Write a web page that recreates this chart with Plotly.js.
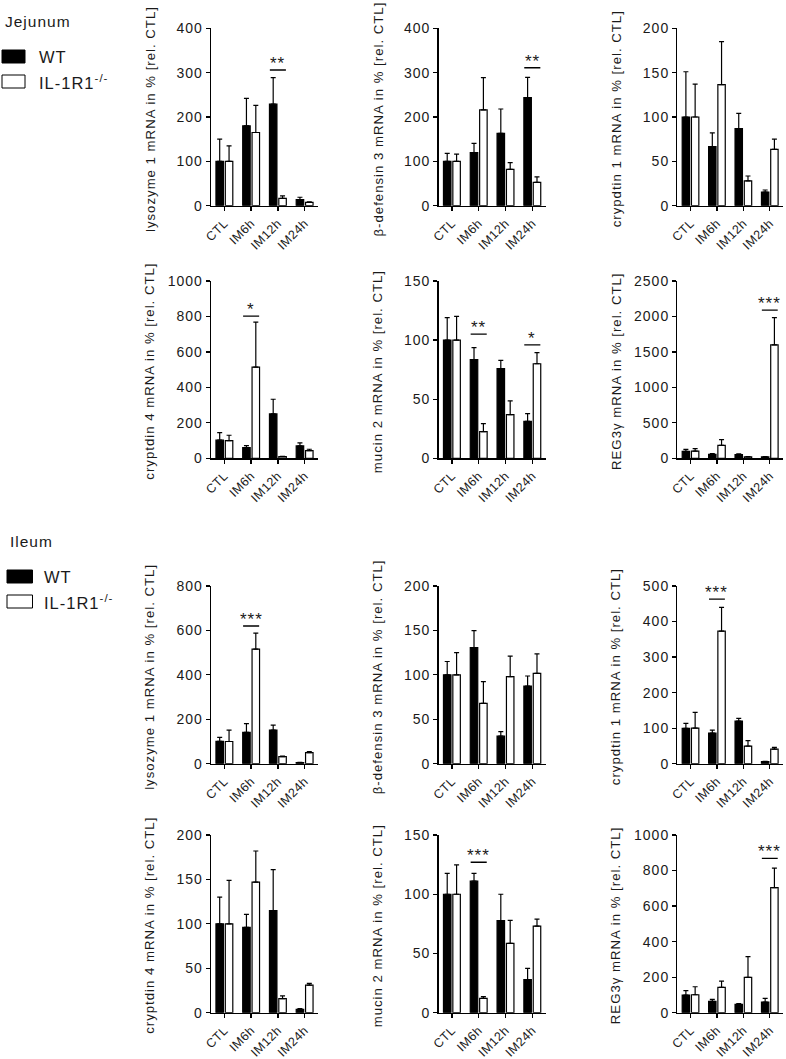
<!DOCTYPE html>
<html>
<head>
<meta charset="utf-8">
<script src="https://cdn.plot.ly/plotly-3.0.1.min.js"></script>
<style>
html, body { margin: 0; padding: 0; background: #fff; }
#chart { width: 786px; height: 1059px; }
svg text { letter-spacing: 1px; }
svg .xaxislayer-above text { letter-spacing: 0.5px; }
</style>
</head>
<body>
<div id="chart"></div>
<script>
// ---------- data ----------
const categories = ['CTL', 'IM6h', 'IM12h', 'IM24h'];
const groupWT = 'WT';
const groupKO = 'IL-1R1<sup>-/-</sup>';
const sectionNames = ['Jejunum', 'Ileum'];

// Jejunum
const jejLysoWT = [100, 180, 229, 14];     const jejLysoWTerr = [50, 62, 60, 5];
const jejLysoKO = [100, 165, 16.5, 7.5];   const jejLysoKOerr = [35, 61, 5.5, 1];
const jejBdefWT = [100, 119.5, 163, 244];  const jejBdefWTerr = [18, 21, 55, 45.5];
const jejBdefKO = [100, 216, 82, 52.6];    const jejBdefKOerr = [16.5, 73, 15, 12.4];
const jejCrp1WT = [100, 66.5, 87, 15.4];   const jejCrp1WTerr = [51, 15.5, 17, 2.3];
const jejCrp1KO = [100, 136.5, 28, 63.5];  const jejCrp1KOerr = [37, 48.5, 5.5, 11.5];
const jejCrp4WT = [102, 60, 250, 70];      const jejCrp4WTerr = [43, 12, 83, 17];
const jejCrp4KO = [100, 514, 9, 43];       const jejCrp4KOerr = [30, 254, 2, 8];
const jejMuc2WT = [100, 83.5, 75.8, 31.3]; const jejMuc2WTerr = [19, 10.1, 7.1, 6.5];
const jejMuc2KO = [100, 22.5, 36.9, 80];   const jejMuc2KOerr = [20, 6.8, 11.6, 9.4];
const jejRegWT = [99, 56, 52, 19];         const jejRegWTerr = [28, 10, 9, 4];
const jejRegKO = [100, 183, 19, 1598];     const jejRegKOerr = [36, 80, 4, 385];

// Ileum
const ilLysoWT = [100.6, 141, 151.6, 4.5]; const ilLysoWTerr = [18, 39, 22.4, 1.5];
const ilLysoKO = [100, 516, 31.5, 49.5];   const ilLysoKOerr = [51.6, 72, 3, 4.5];
const ilBdefWT = [100, 130.6, 31, 87.4];   const ilBdefWTerr = [15, 19.1, 5, 11.3];
const ilBdefKO = [100, 68, 98, 101.7];     const ilBdefKOerr = [25, 24.3, 23, 21.8];
const ilCrp1WT = [99.4, 86.3, 120, 5.6];   const ilCrp1WTerr = [14.1, 8.4, 7.6, 0.9];
const ilCrp1KO = [100, 373, 49.7, 41];     const ilCrp1KOerr = [44.5, 67, 15, 5];
const ilCrp4WT = [100, 96, 115, 3.75];     const ilCrp4WTerr = [30, 14.7, 46, 0.75];
const ilCrp4KO = [100, 147, 15.8, 31];     const ilCrp4KOerr = [49, 35, 3.2, 2];
const ilMuc2WT = [100, 111, 77.7, 28];     const ilMuc2WTerr = [17.6, 6.6, 22.3, 9.4];
const ilMuc2KO = [100, 12.1, 58.5, 73];    const ilMuc2KOerr = [24.7, 1.4, 19.5, 6];
const ilRegWT = [99.4, 64, 47, 60];        const ilRegWTerr = [24.6, 11, 3.6, 20.7];
const ilRegKO = [101, 142.6, 199, 703.6];  const ilRegKOerr = [45, 35.4, 116, 110];

// axis titles, ranges and tick steps (panel order: row by row)
const yTitles = [
  'lysozyme 1 mRNA in % [rel. CTL]', 'β-defensin 3 mRNA in % [rel. CTL]', 'crypdtin 1 mRNA in % [rel. CTL]',
  'cryptdin 4 mRNA in % [rel. CTL]', 'mucin 2 mRNA in % [rel. CTL]', 'REG3γ mRNA in % [rel. CTL]',
  'lysozyme 1 mRNA in % [rel. CTL]', 'β-defensin 3 mRNA in % [rel. CTL]', 'crypdtin 1 mRNA in % [rel. CTL]',
  'cryptdin 4 mRNA in % [rel. CTL]', 'mucin 2 mRNA in % [rel. CTL]', 'REG3γ mRNA in % [rel. CTL]'
];
const yMax = [400, 400, 200, 1000, 150, 2500, 800, 200, 500, 200, 150, 1000];
const yStep = [100, 100, 50, 200, 50, 500, 200, 50, 100, 50, 50, 200];

// significance marks
const sigPanel = [0, 1, 3, 4, 4, 5, 6, 8, 10, 11];
const sigCat   = [2, 3, 1, 1, 3, 3, 1, 1, 1, 3];
const sigLevel = [306, 311, 802, 105, 96, 2090, 620, 463, 127, 869];
const sigText  = ['**', '**', '*', '**', '*', '***', '***', '***', '***', '***'];

// ---------- build ----------
const wtSeries = [
  [jejLysoWT, jejLysoWTerr], [jejBdefWT, jejBdefWTerr], [jejCrp1WT, jejCrp1WTerr],
  [jejCrp4WT, jejCrp4WTerr], [jejMuc2WT, jejMuc2WTerr], [jejRegWT, jejRegWTerr],
  [ilLysoWT, ilLysoWTerr], [ilBdefWT, ilBdefWTerr], [ilCrp1WT, ilCrp1WTerr],
  [ilCrp4WT, ilCrp4WTerr], [ilMuc2WT, ilMuc2WTerr], [ilRegWT, ilRegWTerr]
];
const koSeries = [
  [jejLysoKO, jejLysoKOerr], [jejBdefKO, jejBdefKOerr], [jejCrp1KO, jejCrp1KOerr],
  [jejCrp4KO, jejCrp4KOerr], [jejMuc2KO, jejMuc2KOerr], [jejRegKO, jejRegKOerr],
  [ilLysoKO, ilLysoKOerr], [ilBdefKO, ilBdefKOerr], [ilCrp1KO, ilCrp1KOerr],
  [ilCrp4KO, ilCrp4KOerr], [ilMuc2KO, ilMuc2KOerr], [ilRegKO, ilRegKOerr]
];

const W = 786, H = 1059;
const colPx = [[211, 318], [438.5, 545.7], [677.3, 783]];
const rowPx = [[28.3, 205.7], [281, 458.3], [586, 763.7], [835, 1012.7]];
const FONT = 'Liberation Sans, Arial, Helvetica, sans-serif';
const TXT = '#1a1a1a';

const traces = [];
const layout = {
  width: W, height: H,
  margin: {l: 0, r: 0, t: 0, b: 0},
  paper_bgcolor: '#fff', plot_bgcolor: 'rgba(0,0,0,0)',
  font: {family: FONT, size: 13, color: TXT},
  showlegend: false,
  barmode: 'group', bargap: 0.3, bargroupgap: 0.2,
  shapes: [], annotations: []
};

function zeros(n) { return new Array(n).fill(0); }

for (let p = 0; p < 12; p++) {
  const r = Math.floor(p / 3), c = p % 3;
  const sx = p === 0 ? '' : String(p + 1);
  const xa = 'x' + sx, ya = 'y' + sx;
  [[wtSeries[p], '#000', groupWT], [koSeries[p], '#fff', groupKO]].forEach(([s, fill, nm]) => {
    traces.push({
      type: 'bar', x: categories, y: s[0], name: nm,
      xaxis: xa, yaxis: ya,
      marker: {color: fill, line: {color: '#000', width: 1.2}},
      error_y: {type: 'data', symmetric: false, array: s[1], arrayminus: zeros(s[1].length),
                color: '#000', thickness: 1.2, width: 2.5},
      hoverinfo: 'skip'
    });
  });
  const xd = [colPx[c][0] / W, colPx[c][1] / W];
  const yd = [1 - rowPx[r][1] / H, 1 - rowPx[r][0] / H];
  layout['xaxis' + sx] = {
    domain: xd, anchor: ya, type: 'category', range: [-0.5, 3.5],
    showline: true, linecolor: '#000', linewidth: 1.3, mirror: false,
    ticks: 'outside', ticklen: 4, tickwidth: 1.3, tickcolor: '#000',
    tickangle: -45, showgrid: false, zeroline: false,
    tickfont: {family: FONT, size: 12.5, color: TXT}, fixedrange: true
  };
  layout['yaxis' + sx] = {
    domain: yd, anchor: xa, range: [0, yMax[p]], dtick: yStep[p], tick0: 0,
    showline: true, linecolor: '#000', linewidth: 1.3,
    ticks: 'outside', ticklen: 4, tickwidth: 1.3, tickcolor: '#000',
    showgrid: false, zeroline: false,
    tickfont: {family: FONT, size: 14, color: TXT}, fixedrange: true
  };
  layout.annotations.push({
    text: yTitles[p], textangle: -90, showarrow: false,
    xref: xa + ' domain', yref: ya + ' domain', x: 0, y: 0.5,
    xanchor: 'center', yanchor: 'middle', xshift: -61, yshift: -2,
    font: {family: FONT, size: 13.2, color: TXT}
  });
}

for (let i = 0; i < sigPanel.length; i++) {
  const p = sigPanel[i];
  const sx = p === 0 ? '' : String(p + 1);
  layout.shapes.push({
    type: 'line', xref: 'x' + sx, yref: 'y' + sx,
    x0: sigCat[i] - 0.3, x1: sigCat[i] + 0.3, y0: sigLevel[i], y1: sigLevel[i],
    line: {color: '#000', width: 1.3}
  });
  layout.annotations.push({
    text: sigText[i], showarrow: false,
    xref: 'x' + sx, yref: 'y' + sx, x: sigCat[i], y: sigLevel[i],
    xanchor: 'center', yanchor: 'bottom', yshift: -5,
    font: {family: FONT, size: 17, color: TXT}
  });
}

// section labels and legend keys
const sectionTop = [0, 520];
const sectionDx = [0, 5];
sectionNames.forEach((name, k) => {
  const top = sectionTop[k], dx = sectionDx[k];
  layout.annotations.push({
    text: name, showarrow: false, xref: 'paper', yref: 'paper',
    x: (3 + dx) / W, y: 1 - (top + 21) / H, xanchor: 'left', yanchor: 'middle',
    font: {family: FONT, size: 15.5, color: TXT}
  });
  [[groupWT, '#000', 50], [groupKO, '#fff', 75]].forEach(([lab, fill, off]) => {
    layout.shapes.push({
      type: 'rect', xref: 'paper', yref: 'paper',
      x0: (2 + dx) / W, x1: (25 + dx * 1.5) / W,
      y0: 1 - (top + off + 13) / H, y1: 1 - (top + off) / H,
      fillcolor: fill, line: {color: '#000', width: 1}
    });
    layout.annotations.push({
      text: lab, showarrow: false, xref: 'paper', yref: 'paper',
      x: (37 + dx) / W, y: 1 - (top + off + 7) / H, xanchor: 'left', yanchor: 'middle',
      font: {family: FONT, size: 16.5, color: TXT}
    });
  });
});

Plotly.newPlot('chart', traces, layout, {staticPlot: true, displayModeBar: false});
</script>
</body>
</html>
